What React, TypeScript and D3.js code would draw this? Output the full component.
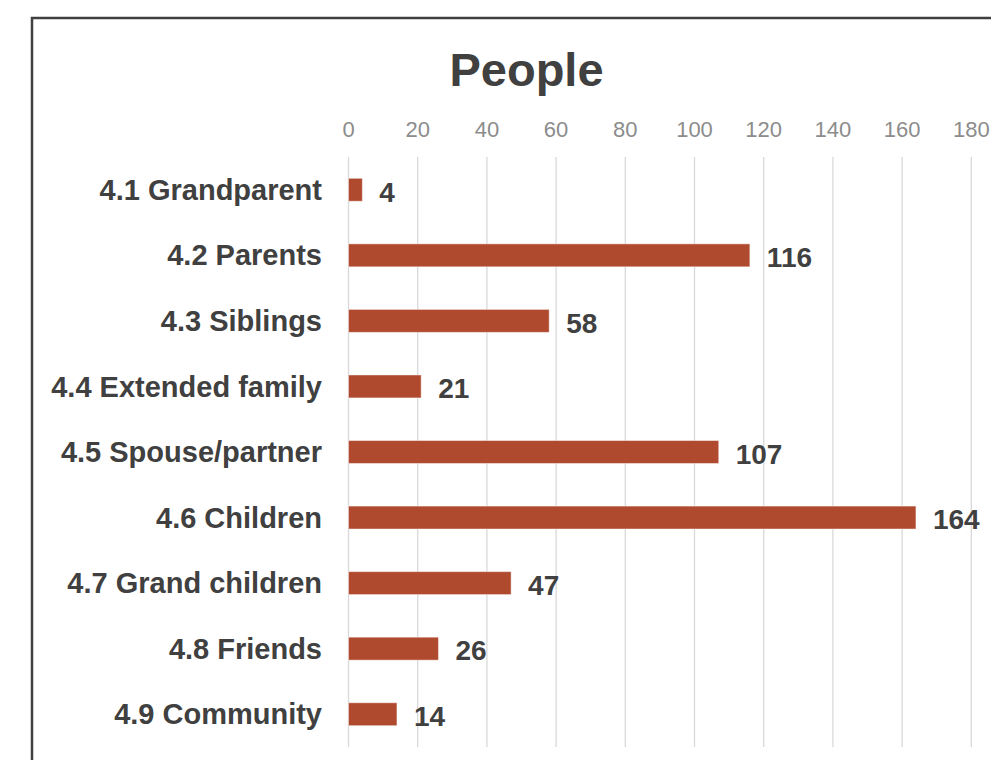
import React from "react";
import * as d3 from "d3";

const categories = [
  "4.1 Grandparent",
  "4.2 Parents",
  "4.3 Siblings",
  "4.4 Extended family",
  "4.5 Spouse/partner",
  "4.6 Children",
  "4.7 Grand children",
  "4.8 Friends",
  "4.9 Community",
];
const values = [4, 116, 58, 21, 107, 164, 47, 26, 14];
const tickValues = [0, 20, 40, 60, 80, 100, 120, 140, 160, 180];
const title = "People";

const W = 991;
const H = 760;
const FONT = "'Liberation Sans', Arial, Helvetica, sans-serif";

export default function App() {
  const x = d3.scaleLinear().domain([0, 180]).range([348.5, 971.3]);
  const y = d3
    .scaleBand<string>()
    .domain(categories)
    .range([157, 747])
    .paddingInner(0.65)
    .paddingOuter(0.325);

  return (
    <svg
      width={W}
      height={H}
      style={{ position: "absolute", left: 0, top: 0, display: "block", background: "#fff" }}
    >
      <rect x={0} y={0} width={W} height={H} fill="#fff" />
      <rect x={32} y={18} width={1100} height={900} fill="#fff" stroke="#404040" strokeWidth={2.5} />
      <text
        x={526.5}
        y={86}
        textAnchor="middle"
        fontFamily={FONT}
        fontWeight="bold"
        fontSize={47}
        fill="#404040"
      >
        {title}
      </text>
      {tickValues.map((t) => (
        <g key={t}>
          <line x1={x(t)} x2={x(t)} y1={157} y2={747} stroke="#d9d9d9" strokeWidth={1.3} />
          <text
            x={x(t)}
            y={137}
            textAnchor="middle"
            fontFamily={FONT}
            fontSize={22}
            fill="#8c8c8c"
          >
            {t}
          </text>
        </g>
      ))}
      {categories.map((c, i) => {
        const by = y(c)!;
        const bh = y.bandwidth();
        const cy = by + bh / 2;
        return (
          <g key={c}>
            <rect
              x={x(0)}
              y={by}
              width={x(values[i]) - x(0)}
              height={bh}
              fill="#b04a2f"
              stroke="#ffffff"
              strokeOpacity={0.45}
              strokeWidth={1}
            />
            <text
              x={322}
              y={cy}
              dy="0.35em"
              textAnchor="end"
              fontFamily={FONT}
              fontWeight="bold"
              fontSize={29}
              fill="#404040"
            >
              {c}
            </text>
            <text
              x={x(values[i]) + 17}
              y={cy}
              dy="0.42em"
              textAnchor="start"
              fontFamily={FONT}
              fontWeight="bold"
              fontSize={28}
              fill="#404040"
            >
              {values[i]}
            </text>
          </g>
        );
      })}
    </svg>
  );
}
